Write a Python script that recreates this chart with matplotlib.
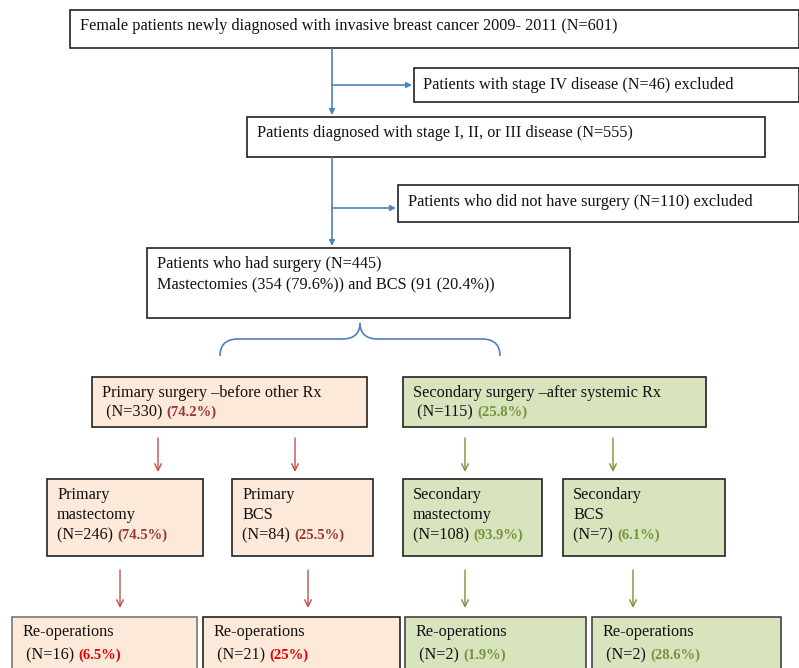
import matplotlib
matplotlib.use("Agg")
import matplotlib.pyplot as plt
from matplotlib.patches import Rectangle, PathPatch
from matplotlib.path import Path

# ── Content ────────────────────────────────────────────────────────────
TOP_TEXT = "Female patients newly diagnosed with invasive breast cancer 2009- 2011 (N=601)"
EXCL1_TEXT = "Patients with stage IV disease (N=46) excluded"
STAGE_TEXT = "Patients diagnosed with stage I, II, or III disease (N=555)"
EXCL2_TEXT = "Patients who did not have surgery (N=110) excluded"
SURG_LINES = ["Patients who had surgery (N=445)",
              "Mastectomies (354 (79.6%)) and BCS (91 (20.4%))"]

GROUP_TITLES = ["Primary surgery \u2013before other Rx",
                "Secondary surgery \u2013after systemic Rx"]
GROUP_N = [330, 115]
GROUP_PCT = ["74.2%", "25.8%"]

SUB_NAMES = [("Primary", "mastectomy"), ("Primary", "BCS"),
             ("Secondary", "mastectomy"), ("Secondary", "BCS")]
SUB_N = [246, 84, 108, 7]
SUB_PCT = ["74.5%", "25.5%", "93.9%", "6.1%"]

REOP_N = [16, 21, 2, 2]
REOP_PCT = ["6.5%", "25%", "1.9%", "28.6%"]

# ── Style ──────────────────────────────────────────────────────────────
FONT = "Liberation Serif"
FS = 11.7
BLUE = "#4F81BD"
RED_ARROW = "#C0504D"
GREEN_ARROW = "#77933C"
PEACH = "#FDE9D9"
SAGE = "#D7E4BD"
DARK_RED = "#953735"
BRIGHT_RED = "#E00000"
GREEN_TXT = "#77933C"

fig = plt.figure(figsize=(7.99, 6.68), dpi=100)
ax = fig.add_axes([0, 0, 1, 1])
ax.set_xlim(0, 799)
ax.set_ylim(668, 0)
ax.axis("off")
renderer = fig.canvas.get_renderer()


def box(x0, y0, x1, y1, fc="white", ec="#222222", lw=1.2):
    ax.add_patch(Rectangle((x0, y0), x1 - x0, y1 - y0, facecolor=fc,
                           edgecolor=ec, linewidth=lw, zorder=2))


def txt(x, y, s, **kw):
    kw.setdefault("va", "center")
    return ax.text(x, y, s, family=FONT, fontsize=FS, color="#111111",
                   ha="left", zorder=3, **kw)


def n_pct(x, y, n, pct, color, lead=""):
    # plain "(N=..)" then the bold coloured percentage on the same baseline
    yb = y + 4
    t = txt(x, yb, f"{lead}(N={n}) ", va="baseline")
    ext = t.get_window_extent(renderer)
    x_end = ax.transData.inverted().transform((ext.x1, ext.y0))[0]
    ax.text(x_end, yb, f"({pct})", family=FONT, fontsize=FS - 1.2,
            fontweight="bold", color=color, ha="left", va="baseline",
            zorder=3)


def arrow(x0, y0, x1, y1, color, style="-|>", lw=1.2, ms=9):
    ax.annotate("", xy=(x1, y1), xytext=(x0, y0),
                arrowprops=dict(arrowstyle=style, color=color, lw=lw,
                                mutation_scale=ms, shrinkA=0, shrinkB=0),
                zorder=1)


# ── Top part ───────────────────────────────────────────────────────────
box(70, 10, 799, 48)
txt(80, 26, TOP_TEXT)

ax.plot([332, 332], [49, 85], color=BLUE, lw=1.2)
arrow(332, 85, 332, 115, BLUE, ms=8)
arrow(332, 85, 412, 85, BLUE, ms=8)
box(414, 68, 799, 102)
txt(423, 85, EXCL1_TEXT)

box(247, 117, 765, 157)
txt(257, 133, STAGE_TEXT)

ax.plot([332, 332], [158, 208], color=BLUE, lw=1.2)
arrow(332, 208, 332, 246, BLUE, ms=8)
arrow(332, 208, 396, 208, BLUE, ms=8)
box(398, 185, 799, 222)
txt(408, 202, EXCL2_TEXT)

box(147, 248, 570, 318)
txt(157, 264, SURG_LINES[0])
txt(157, 284, SURG_LINES[1])

# curly brace under the surgery box
verts = [(220, 356), (220, 340), (236, 339),
         (344, 339), (360, 338), (360, 323),
         (360, 338), (376, 339),
         (484, 339), (500, 340), (500, 356)]
codes = [Path.MOVETO, Path.CURVE3, Path.CURVE3,
         Path.LINETO, Path.CURVE3, Path.CURVE3,
         Path.CURVE3, Path.CURVE3,
         Path.LINETO, Path.CURVE3, Path.CURVE3]
ax.add_patch(PathPatch(Path(verts, codes), facecolor="none",
                       edgecolor=BLUE, lw=1.2))

# ── Group boxes ────────────────────────────────────────────────────────
group_x = [(92, 367), (403, 706)]
group_fc = [PEACH, SAGE]
group_pc = [DARK_RED, GREEN_TXT]
for i in range(2):
    x0, x1 = group_x[i]
    box(x0, 377, x1, 427, fc=group_fc[i])
    txt(x0 + 10, 393, GROUP_TITLES[i])
    n_pct(x0 + 10, 412, GROUP_N[i], GROUP_PCT[i], group_pc[i], lead=" ")

# ── Sub boxes ──────────────────────────────────────────────────────────
sub_x = [(47, 203), (232, 373), (403, 542), (563, 725)]
sub_arrow_x = [158, 295, 465, 613]
sub_fc = [PEACH, PEACH, SAGE, SAGE]
sub_ac = [RED_ARROW, RED_ARROW, GREEN_ARROW, GREEN_ARROW]
sub_pc = [DARK_RED, DARK_RED, GREEN_TXT, GREEN_TXT]
for i in range(4):
    x0, x1 = sub_x[i]
    arrow(sub_arrow_x[i], 438, sub_arrow_x[i], 472, sub_ac[i],
          style="->", lw=1.0, ms=12)
    box(x0, 479, x1, 556, fc=sub_fc[i])
    txt(x0 + 10, 495, SUB_NAMES[i][0])
    txt(x0 + 10, 515, SUB_NAMES[i][1])
    n_pct(x0 + 10, 535, SUB_N[i], SUB_PCT[i], sub_pc[i])

# ── Re-operation boxes ─────────────────────────────────────────────────
reop_x = [(12, 197), (203, 400), (405, 586), (592, 781)]
reop_arrow_x = [120, 308, 465, 633]
reop_pc = [BRIGHT_RED, BRIGHT_RED, GREEN_TXT, GREEN_TXT]
reop_ec = ["#777777", "#222222", "#444444", "#444444"]
for i in range(4):
    x0, x1 = reop_x[i]
    arrow(reop_arrow_x[i], 570, reop_arrow_x[i], 608, sub_ac[i],
          style="->", lw=1.0, ms=12)
    box(x0, 617, x1, 690, fc=sub_fc[i], ec=reop_ec[i])
    txt(x0 + 10, 632, "Re-operations")
    n_pct(x0 + 10, 655, REOP_N[i], REOP_PCT[i], reop_pc[i], lead=" ")

fig.savefig("out.png", dpi=100)
